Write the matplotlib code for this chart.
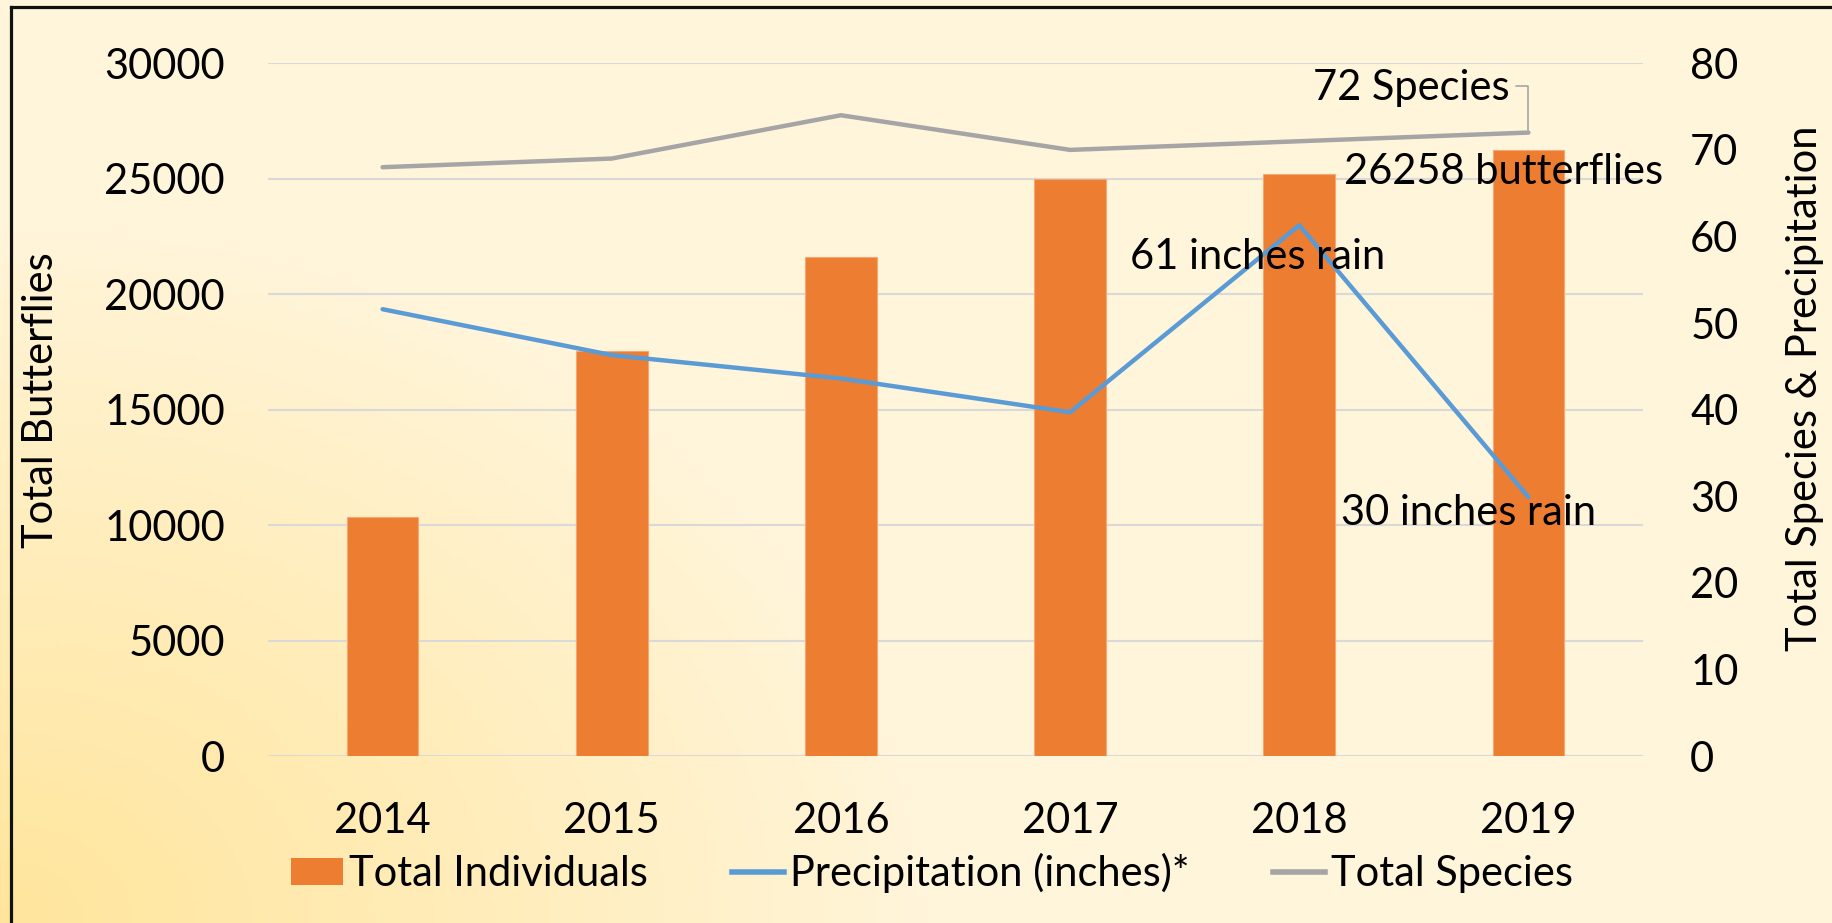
import numpy as np
import matplotlib
matplotlib.use("Agg")
import matplotlib.pyplot as plt
from matplotlib.lines import Line2D
from matplotlib.patches import Patch
from matplotlib.colors import to_rgb

plt.rcParams["font.family"] = ["Lato", "DejaVu Sans"]

# data
years = ["2014", "2015", "2016", "2017", "2018", "2019"]
individuals = [10340, 17550, 21610, 24990, 25220, 26258]
precipitation = [51.6, 46.3, 43.6, 39.7, 61.3, 29.9]
species = [68, 69, 74, 70, 71, 72]

left_ticks = [0, 5000, 10000, 15000, 20000, 25000, 30000]
right_ticks = [0, 10, 20, 30, 40, 50, 60, 70, 80]

ORANGE = "#ED7D31"
BLUE = "#5B9BD5"
GRAY = "#A5A5A5"
FS = 30

W, H = 1832, 923
fig = plt.figure(figsize=(W / 100, H / 100), dpi=100)

# soft cream background, yellower toward the bottom-left corner
bg = fig.add_axes([0, 0, 1, 1], zorder=-10)
gx, gy = np.meshgrid(np.linspace(0, 1, 400), np.linspace(0, 1, 200))
d = np.sqrt((gx / 0.5) ** 2 + (gy / 0.75) ** 2)
t = np.clip(1 - d, 0, 1) ** 0.9
base = np.array(to_rgb("#FFF5DA"))
corner = np.array(to_rgb("#FFE59C"))
img = base[None, None, :] * (1 - t[..., None]) + corner[None, None, :] * t[..., None]
bg.imshow(img, origin="lower", extent=[0, 1, 0, 1], aspect="auto")
bg.set_xlim(0, 1)
bg.set_ylim(0, 1)
bg.axis("off")

# black frame on left and top
fig.add_artist(Line2D([11 / W, 11 / W], [0, 1 - 7 / H], transform=fig.transFigure,
                      color="#111111", lw=2.3))
fig.add_artist(Line2D([11 / W, 1], [1 - 7 / H, 1 - 7 / H], transform=fig.transFigure,
                      color="#111111", lw=2.3))

ax = fig.add_axes([268 / W, 1 - 756 / H, (1643 - 268) / W, (756 - 63.3) / H])
ax.set_facecolor("none")
x = np.arange(len(years))
ax.bar(x, individuals, width=0.313, color=ORANGE, edgecolor="#F6A872", linewidth=0.8, zorder=2)
ax.set_xlim(-0.5, len(years) - 0.5)
ax.set_ylim(0, 30000)
ax.set_yticks(left_ticks)
ax.set_xticks(x)
ax.set_xticklabels(years)
ax.yaxis.grid(True, color="#D9D9D9", linewidth=1.5)
ax.set_axisbelow(True)
ax.tick_params(axis="both", length=0, labelsize=FS)
ax.tick_params(axis="y", pad=31)
ax.tick_params(axis="x", pad=33)
for s in ax.spines.values():
    s.set_visible(False)

ax2 = ax.twinx()
ax2.set_ylim(0, 80)
ax2.set_yticks(right_ticks)
ax2.tick_params(axis="y", length=0, labelsize=FS, pad=34)
for s in ax2.spines.values():
    s.set_visible(False)

ax2.plot(x, precipitation, color=BLUE, lw=3.2, solid_capstyle="round", solid_joinstyle="round", zorder=3)
ax2.plot(x, species, color=GRAY, lw=3.2, solid_capstyle="round", solid_joinstyle="round", zorder=3)

# data labels
ax2.annotate(f"{species[5]} Species", xy=(x[5], species[5]), xytext=(-19, 45),
             textcoords="offset pixels", ha="right", va="center", fontsize=FS, zorder=5,
             arrowprops=dict(arrowstyle="-", color="#A6A6A6", lw=1.2,
                             connectionstyle="angle,angleA=0,angleB=90,rad=0",
                             relpos=(1, 0.55), shrinkA=3, shrinkB=2))
ax.annotate(f"{individuals[5]} butterflies", xy=(x[5], individuals[5]), xytext=(-25, -22),
            textcoords="offset pixels", ha="center", va="center", fontsize=FS, zorder=5)
ax2.annotate(f"{precipitation[4]:.0f} inches rain", xy=(x[4], precipitation[4]), xytext=(-42, -32),
             textcoords="offset pixels", ha="center", va="center", fontsize=FS, zorder=5)
ax2.annotate(f"{precipitation[5]:.0f} inches rain", xy=(x[5], precipitation[5]), xytext=(-60, -16),
             textcoords="offset pixels", ha="center", va="center", fontsize=FS, zorder=5)

fig.text(41 / W, 1 - 400 / H, "Total Butterflies", rotation=90, ha="center", va="center", fontsize=FS)
fig.text(1805 / W, 1 - 388 / H, "Total Species & Precipitation", rotation=90,
         ha="center", va="center", fontsize=FS)

handles = [
    Patch(facecolor=ORANGE, edgecolor="none"),
    Line2D([], [], color=BLUE, lw=4),
    Line2D([], [], color=GRAY, lw=4),
]
labels = ["Total Individuals", "Precipitation (inches)*", "Total Species"]
fig.legend(handles, labels, loc="center", bbox_to_anchor=(932 / W, 1 - 873 / H), ncol=3,
           frameon=False, fontsize=FS, handlelength=1.25, handleheight=0.6,
           handletextpad=0.15, columnspacing=2.0, borderpad=0)

fig.savefig("out.png", dpi=100)
